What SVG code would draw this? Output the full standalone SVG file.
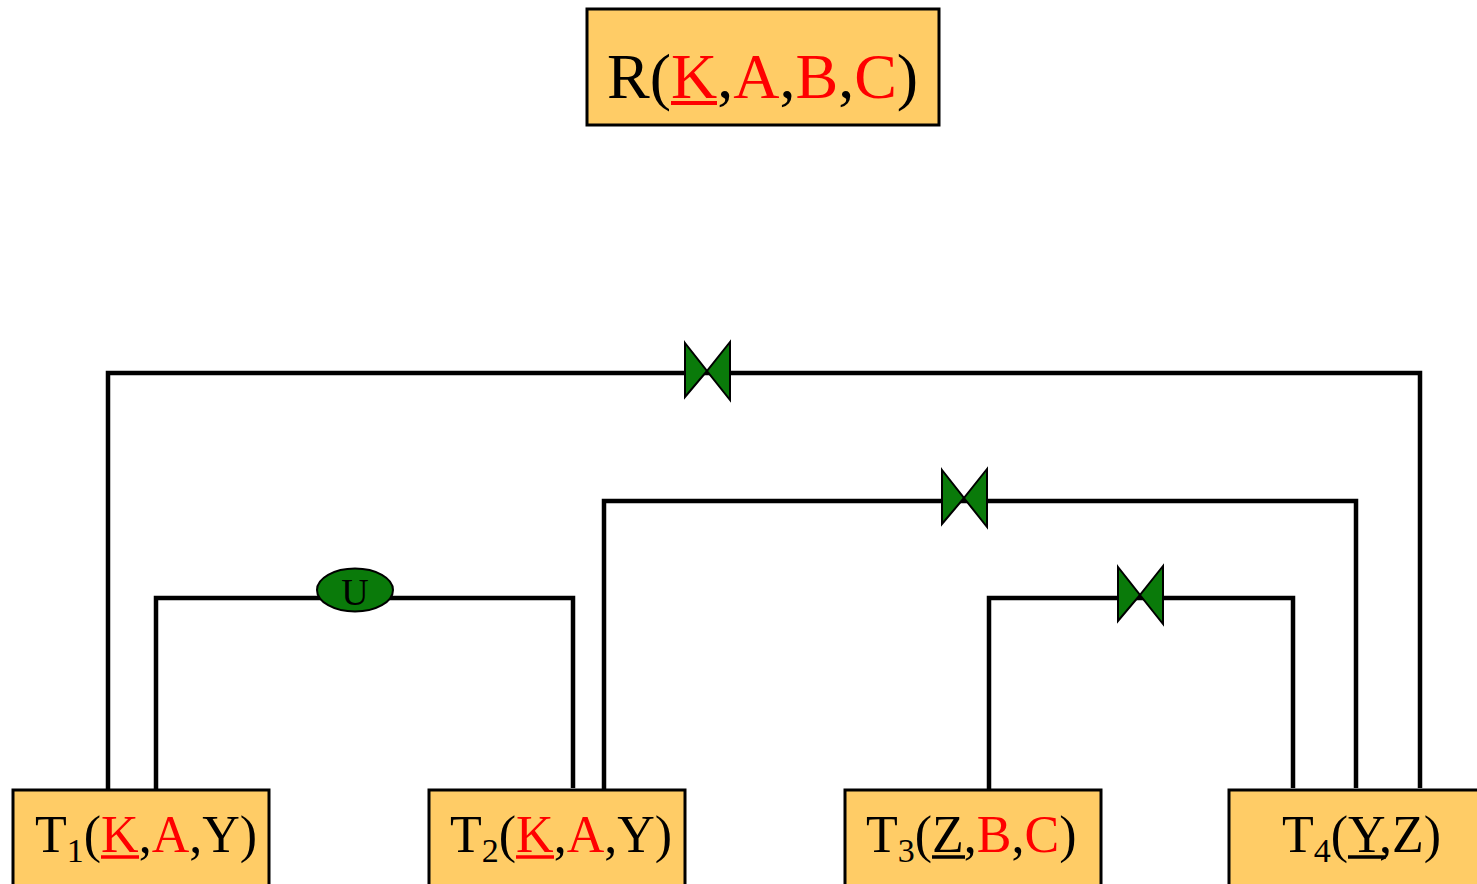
<svg xmlns="http://www.w3.org/2000/svg" width="1477" height="884" viewBox="0 0 1477 884">
<style>
.box{fill:#FFCC66;stroke:#000;stroke-width:3}
.ln{stroke:#000;stroke-width:4.5;fill:none}
.t{font-family:"Liberation Serif","Times New Roman",serif;fill:#000}
.r{fill:#FF0000}
.k{fill:#000}
.bow{fill:#0A7A0A;stroke:#000;stroke-width:2;stroke-linejoin:miter}
</style>
<rect width="1477" height="884" fill="#fff"/>
<g id="connectors">
  <polyline class="ln" points="108,790 108,373 1420,373 1420,788"/>
  <polyline class="ln" points="604,790 604,501 1356,501 1356,788"/>
  <polyline class="ln" points="156,790 156,598 573,598 573,788"/>
  <polyline class="ln" points="989,790 989,598 1293,598 1293,788"/>
  <g id="join1"><polygon class="bow" points="685,343 707,371 685,397"/><polygon class="bow" points="730,342 707,371 730,400"/></g>
  <g id="join2"><polygon class="bow" points="942,470 964,498 942,524"/><polygon class="bow" points="987,469 964,498 987,527"/></g>
  <g id="join3"><polygon class="bow" points="1118,567 1140,595 1118,621"/><polygon class="bow" points="1163,566 1140,595 1163,624"/></g>
  <g id="union"><ellipse cx="355" cy="590" rx="38" ry="21.5" fill="#0A7A0A" stroke="#000" stroke-width="2"/>
  <text class="t" x="355" y="605" font-size="38" text-anchor="middle">U</text></g>
</g>
<g id="R">
  <rect class="box" x="587" y="9" width="352" height="116"/>
  <text class="t" x="607" y="98" font-size="64">R(<tspan class="r">K</tspan>,<tspan class="r">A</tspan>,<tspan class="r">B</tspan>,<tspan class="r">C</tspan>)</text>
  <line x1="671" y1="103" x2="717" y2="103" stroke="#FF0000" stroke-width="4"/>
</g>
<g id="T1">
  <rect class="box" x="13" y="790" width="256" height="100"/>
  <text class="t" x="35" y="852" font-size="52">T<tspan class="k" font-size="34" dy="10">1</tspan><tspan dy="-10">(</tspan><tspan class="r">K</tspan>,<tspan class="r">A</tspan>,Y)</text>
  <line x1="101" y1="857" x2="139" y2="857" stroke="#FF0000" stroke-width="3.5"/>
</g>
<g id="T2">
  <rect class="box" x="429" y="790" width="256" height="100"/>
  <text class="t" x="450" y="852" font-size="52">T<tspan class="k" font-size="34" dy="10">2</tspan><tspan dy="-10">(</tspan><tspan class="r">K</tspan>,<tspan class="r">A</tspan>,Y)</text>
  <line x1="516" y1="857" x2="554" y2="857" stroke="#FF0000" stroke-width="3.5"/>
</g>
<g id="T3">
  <rect class="box" x="845" y="790" width="256" height="100"/>
  <text class="t" x="866" y="852" font-size="52">T<tspan class="k" font-size="34" dy="10">3</tspan><tspan dy="-10">(</tspan>Z,<tspan class="r">B</tspan>,<tspan class="r">C</tspan>)</text>
  <line x1="932" y1="857" x2="965" y2="857" stroke="#000" stroke-width="3.5"/>
</g>
<g id="T4">
  <rect class="box" x="1229" y="790" width="260" height="100"/>
  <text class="t" x="1282" y="852" font-size="52">T<tspan class="k" font-size="34" dy="10">4</tspan><tspan dy="-10">(</tspan>Y,Z)</text>
  <line x1="1348" y1="857" x2="1386" y2="857" stroke="#000" stroke-width="3.5"/>
</g>
</svg>
